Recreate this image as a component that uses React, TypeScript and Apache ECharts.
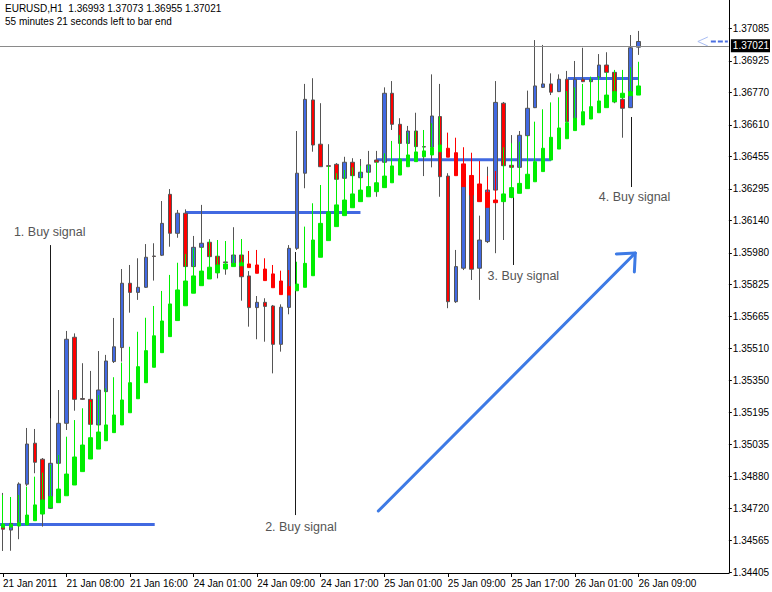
import React, { useEffect, useRef } from 'react';
import * as echarts from 'echarts';

// ---------- data ----------
const symbol = 'EURUSD';
const timeframe = 'H1';
const timeLeftText = '55 minutes 21 seconds left to bar end';

const xTickBars = [0, 8, 16, 24, 32, 40, 48, 56, 64, 72, 80];
const xTickLabels = [
  '21 Jan 2011', '21 Jan 08:00', '21 Jan 16:00', '24 Jan 01:00', '24 Jan 09:00', '24 Jan 17:00',
  '25 Jan 01:00', '25 Jan 09:00', '25 Jan 17:00', '26 Jan 01:00', '26 Jan 09:00',
];
const yTickValues = [
  1.37085, 1.36925, 1.3677, 1.3661, 1.36455, 1.36295, 1.3614, 1.3598, 1.35825, 1.35665,
  1.3551, 1.3535, 1.35195, 1.35035, 1.3488, 1.3472, 1.34565, 1.34405,
];

// main EURUSD H1 candles (bars 0..80)
const mainOpen = [
  1.34631, 1.34614, 1.34650, 1.34840, 1.35042, 1.34963, 1.34721, 1.34943, 1.35140, 1.35564,
  1.35262, 1.35258, 1.35132, 1.35296, 1.35444, 1.35513, 1.35830, 1.35785, 1.35810, 1.35964,
  1.35968, 1.36268, 1.36076, 1.36175, 1.35912, 1.36007, 1.36032, 1.35963, 1.35935, 1.35928,
  1.35969, 1.35866, 1.35710, 1.35736, 1.35718, 1.35529, 1.35711, 1.36002, 1.36372, 1.36733,
  1.36515, 1.36409, 1.36416, 1.36347, 1.36426, 1.36350, 1.36377, 1.36437, 1.36426, 1.36766,
  1.36613, 1.36519, 1.36580, 1.36503, 1.36500, 1.36651, 1.36358, 1.35739, 1.35904, 1.36339,
  1.35904, 1.36035, 1.36289, 1.36717, 1.36411, 1.36401, 1.36557, 1.36695, 1.36795, 1.36812,
  1.36774, 1.36835, 1.36639, 1.36835, 1.36823, 1.36845, 1.36905, 1.36869, 1.36736, 1.36695,
  1.36993,
];
const mainHigh = [
  1.34797, 1.34654, 1.34849, 1.35117, 1.35112, 1.34969, 1.35165, 1.35304, 1.35595, 1.35583,
  1.35436, 1.35398, 1.35496, 1.35477, 1.35659, 1.35900, 1.35920, 1.35953, 1.36023, 1.36027,
  1.36235, 1.36294, 1.36191, 1.36194, 1.36063, 1.36216, 1.36047, 1.35969, 1.35940, 1.36106,
  1.35974, 1.35890, 1.35767, 1.35756, 1.35723, 1.35726, 1.36018, 1.36580, 1.36812, 1.36840,
  1.36717, 1.36515, 1.36422, 1.36453, 1.36446, 1.36442, 1.36482, 1.36482, 1.36795, 1.36826,
  1.36643, 1.36605, 1.36670, 1.36506, 1.36859, 1.36812, 1.36372, 1.35994, 1.36319, 1.36349,
  1.36163, 1.36404, 1.36826, 1.36723, 1.36560, 1.36580, 1.36779, 1.37028, 1.37004, 1.36864,
  1.36859, 1.36876, 1.36925, 1.36990, 1.36836, 1.36959, 1.36968, 1.36876, 1.36748, 1.37053,
  1.37073,
];
const mainLow = [
  1.34511, 1.34512, 1.34569, 1.34831, 1.34894, 1.34631, 1.34718, 1.34940, 1.35107, 1.35202,
  1.35255, 1.35132, 1.35127, 1.35294, 1.35437, 1.35444, 1.35685, 1.35748, 1.35807, 1.35843,
  1.35964, 1.36010, 1.36054, 1.35910, 1.35905, 1.36004, 1.35935, 1.35854, 1.35872, 1.35915,
  1.35744, 1.35616, 1.35554, 1.35542, 1.35386, 1.35493, 1.35677, 1.35994, 1.36298, 1.36478,
  1.36403, 1.36363, 1.36329, 1.36344, 1.36358, 1.36322, 1.36373, 1.36256, 1.36422, 1.36585,
  1.36516, 1.36516, 1.36501, 1.36358, 1.36401, 1.36256, 1.35707, 1.35733, 1.35895, 1.35846,
  1.35748, 1.36028, 1.35978, 1.36043, 1.36249, 1.36398, 1.36555, 1.36693, 1.36792, 1.36757,
  1.36772, 1.36624, 1.36634, 1.36821, 1.36821, 1.36841, 1.36866, 1.36717, 1.36547, 1.36693,
  1.36955,
];
const mainClose = [
  1.34618, 1.34647, 1.34841, 1.35038, 1.34948, 1.34762, 1.34943, 1.35140, 1.35554, 1.35258,
  1.35258, 1.35135, 1.35304, 1.35447, 1.35517, 1.35830, 1.35785, 1.35810, 1.35958, 1.35962,
  1.36125, 1.36076, 1.36175, 1.35912, 1.36007, 1.36027, 1.35961, 1.35918, 1.35932, 1.35969,
  1.35862, 1.35710, 1.35736, 1.35716, 1.35529, 1.35712, 1.36002, 1.36372, 1.36736, 1.36511,
  1.36404, 1.36406, 1.36342, 1.36426, 1.36360, 1.36377, 1.36413, 1.36426, 1.36766, 1.36613,
  1.36519, 1.36580, 1.36503, 1.36501, 1.36654, 1.36355, 1.35739, 1.35912, 1.36309, 1.35899,
  1.36043, 1.36289, 1.36721, 1.36409, 1.36401, 1.36559, 1.36692, 1.36802, 1.36812, 1.36771,
  1.36835, 1.36626, 1.36835, 1.36823, 1.36835, 1.36905, 1.36869, 1.36724, 1.36692, 1.36990,
  1.37021,
];

// smoothed Heiken Ashi indicator bars (bars 0..80)
const haOpen = [
  1.34628, 1.34629, 1.34634, 1.34639, 1.34660, 1.34693, 1.34726, 1.34749, 1.34783, 1.34836,
  1.34902, 1.34964, 1.35013, 1.35054, 1.35094, 1.35132, 1.35192, 1.35261, 1.35340, 1.35416,
  1.35488, 1.35567, 1.35646, 1.35719, 1.35781, 1.35818, 1.35851, 1.35881, 1.35900, 1.35912,
  1.35916, 1.35925, 1.35920, 1.35900, 1.35876, 1.35841, 1.35813, 1.35793, 1.35810, 1.35867,
  1.35958, 1.36040, 1.36109, 1.36163, 1.36202, 1.36232, 1.36256, 1.36281, 1.36301, 1.36325,
  1.36363, 1.36404, 1.36429, 1.36453, 1.36462, 1.36478, 1.36495, 1.36473, 1.36418, 1.36361,
  1.36319, 1.36278, 1.36240, 1.36232, 1.36253, 1.36273, 1.36296, 1.36330, 1.36380, 1.36437,
  1.36491, 1.36542, 1.36582, 1.36610, 1.36639, 1.36670, 1.36695, 1.36724, 1.36744, 1.36754,
  1.36757,
];
const haHigh = [
  1.34787, 1.34777, 1.34787, 1.34828, 1.34877, 1.34897, 1.34935, 1.34984, 1.35074, 1.35156,
  1.35214, 1.35246, 1.35279, 1.35312, 1.35367, 1.35439, 1.35517, 1.35591, 1.35660, 1.35718,
  1.35792, 1.35871, 1.35931, 1.35974, 1.36002, 1.36007, 1.36043, 1.36043, 1.36038, 1.36043,
  1.36048, 1.35989, 1.35994, 1.35953, 1.35920, 1.35892, 1.35895, 1.35936, 1.36109, 1.36224,
  1.36314, 1.36408, 1.36372, 1.36388, 1.36401, 1.36408, 1.36413, 1.36429, 1.36470, 1.36531,
  1.36560, 1.36572, 1.36580, 1.36585, 1.36618, 1.36651, 1.36572, 1.36547, 1.36500, 1.36473,
  1.36432, 1.36358, 1.36383, 1.36500, 1.36520, 1.36527, 1.36557, 1.36626, 1.36687, 1.36721,
  1.36746, 1.36777, 1.36795, 1.36812, 1.36848, 1.36851, 1.36869, 1.36881, 1.36881, 1.36894,
  1.36921,
];
const haLow = [
  1.34628, 1.34629, 1.34634, 1.34639, 1.34660, 1.34693, 1.34726, 1.34749, 1.34783, 1.34836,
  1.34902, 1.34964, 1.35013, 1.35054, 1.35094, 1.35132, 1.35192, 1.35261, 1.35340, 1.35416,
  1.35488, 1.35567, 1.35646, 1.35719, 1.35781, 1.35818, 1.35851, 1.35881, 1.35900, 1.35912,
  1.35916, 1.35907, 1.35879, 1.35843, 1.35808, 1.35774, 1.35772, 1.35793, 1.35810, 1.35867,
  1.35958, 1.36040, 1.36109, 1.36163, 1.36202, 1.36232, 1.36256, 1.36281, 1.36301, 1.36325,
  1.36363, 1.36404, 1.36429, 1.36453, 1.36462, 1.36478, 1.36451, 1.36360, 1.36306, 1.36265,
  1.36232, 1.36204, 1.36227, 1.36232, 1.36253, 1.36273, 1.36296, 1.36330, 1.36380, 1.36437,
  1.36491, 1.36542, 1.36582, 1.36610, 1.36639, 1.36670, 1.36695, 1.36724, 1.36744, 1.36754,
  1.36757,
];
const haClose = [
  1.34644, 1.34641, 1.34650, 1.34688, 1.34738, 1.34762, 1.34779, 1.34816, 1.34890, 1.34974,
  1.35033, 1.35069, 1.35097, 1.35132, 1.35181, 1.35255, 1.35340, 1.35419, 1.35498, 1.35571,
  1.35644, 1.35728, 1.35797, 1.35841, 1.35866, 1.35890, 1.35909, 1.35920, 1.35925, 1.35928,
  1.35931, 1.35907, 1.35879, 1.35843, 1.35808, 1.35774, 1.35772, 1.35826, 1.35928, 1.36043,
  1.36125, 1.36181, 1.36216, 1.36240, 1.36270, 1.36289, 1.36306, 1.36325, 1.36358, 1.36408,
  1.36442, 1.36462, 1.36477, 1.36482, 1.36498, 1.36511, 1.36451, 1.36360, 1.36306, 1.36265,
  1.36232, 1.36204, 1.36227, 1.36270, 1.36301, 1.36322, 1.36367, 1.36429, 1.36495, 1.36549,
  1.36595, 1.36621, 1.36643, 1.36675, 1.36700, 1.36728, 1.36757, 1.36774, 1.36766, 1.36774,
  1.36802,
];

// annotations drawn on the chart (bar index, price)
const signalTexts = ['1. Buy signal', '2. Buy signal', '3. Buy signal', '4. Buy signal'];
const signalTextBar = [1.375, 33, 61, 75];
const signalTextPrice = [1.36083, 1.34629, 1.35866, 1.36255];
const signalLineBar = [5.875, 36.75, 64.25, 79.1];
const signalLineTop = [1.36018, 1.35984, 1.36255, 1.36649];
const signalLineBottom = [1.34723, 1.34688, 1.35920, 1.36304];
const levelStartBar = [-0.375, 23, 47.1, 71.1];
const levelEndBar = [19.1, 45, 69, 80];
const levelPrice = [1.34641, 1.36178, 1.36439, 1.36839];
const arrowFrom = [47.25, 1.34708];
const arrowTo = [79.6, 1.35979];

const FONT = '"Liberation Sans", Arial, sans-serif';

export default function App() {
  const ref = useRef<HTMLDivElement>(null);

  useEffect(() => {
    document.body.style.margin = '0';
    const chart = echarts.init(ref.current as HTMLDivElement, null, { renderer: 'svg' });
    const last = mainOpen.length - 1;
    const currentPrice = mainClose[last];

    const mainData = mainOpen.map((o, i) => [i, o, mainClose[i], mainLow[i], mainHigh[i]]);
    const haData = haOpen.map((o, i) => [i, o, haClose[i], haLow[i], haHigh[i]]);

    chart.setOption({
      animation: false,
      backgroundColor: '#ffffff',
      grid: { left: 0, right: 38, top: 0, bottom: 19, containLabel: false },
      xAxis: {
        type: 'value',
        min: -0.375,
        max: 91.375,
        axisLine: { show: true, onZero: false, lineStyle: { color: '#000', width: 1 } },
        axisTick: { show: true, length: 4, customValues: xTickBars, lineStyle: { color: '#000' } },
        axisLabel: {
          show: true,
          customValues: xTickBars,
          formatter: (v: number) => xTickLabels[xTickBars.indexOf(Math.round(v))] ?? '',
          align: 'left',
          margin: 5,
          color: '#000',
          fontSize: 10,
          fontFamily: FONT,
        },
        splitLine: { show: false },
      },
      yAxis: {
        type: 'value',
        position: 'right',
        min: 1.344025,
        max: 1.372254,
        axisLine: { show: true, onZero: false, lineStyle: { color: '#000', width: 1 } },
        axisTick: { show: true, length: 3, customValues: yTickValues, lineStyle: { color: '#000' } },
        axisLabel: {
          show: true,
          customValues: yTickValues,
          formatter: (v: number) => v.toFixed(5),
          margin: 4,
          color: '#000',
          fontSize: 10,
          fontFamily: FONT,
        },
        splitLine: { show: false },
      },
      series: [
        {
          type: 'candlestick',
          name: 'EURUSD',
          data: mainData,
          barWidth: 4,
          silent: true,
          itemStyle: {
            color: '#4169e1',
            color0: '#ff0000',
            borderColor: '#555555',
            borderColor0: '#555555',
            borderColorDoji: '#555555',
            borderWidth: 1,
          },
          markLine: {
            silent: true,
            symbol: ['none', 'none'],
            data: [{ yAxis: currentPrice }],
            lineStyle: { color: '#8a8a8a', width: 1, type: 'solid' },
            label: {
              show: true,
              position: 'end',
              formatter: currentPrice.toFixed(5),
              color: '#ffffff',
              backgroundColor: '#000000',
              fontSize: 10,
              fontFamily: FONT,
              padding: [2, 1, 1, 2],
              distance: 2,
            },
          },
        },
        {
          type: 'candlestick',
          name: 'Heiken Ashi',
          data: haData,
          barWidth: 4,
          silent: true,
          itemStyle: {
            color: '#00ee00',
            color0: '#ff0000',
            borderColor: '#00ee00',
            borderColor0: '#ff0000',
            borderColorDoji: '#00ee00',
            borderWidth: 1,
          },
        },
      ],
    });

    const px = (x: number, y: number) =>
      chart.convertToPixel({ gridIndex: 0 }, [x, y]) as number[];

    const elements: any[] = [];
    // header
    elements.push({
      type: 'text', x: 5, y: 8,
      style: {
        text: `${symbol},${timeframe}  ${mainOpen[last].toFixed(5)} ${mainHigh[last].toFixed(5)} ${mainLow[last].toFixed(5)} ${mainClose[last].toFixed(5)}`,
        fill: '#000', font: `10px ${FONT}`, align: 'left', verticalAlign: 'middle',
      },
    });
    elements.push({
      type: 'text', x: 5, y: 21,
      style: { text: timeLeftText, fill: '#000', font: `10px ${FONT}`, align: 'left', verticalAlign: 'middle' },
    });
    // horizontal level lines
    levelPrice.forEach((p, i) => {
      const a = px(levelStartBar[i], p);
      const b = px(levelEndBar[i], p);
      elements.push({
        type: 'line', silent: true,
        shape: { x1: a[0], y1: a[1], x2: b[0], y2: b[1] },
        style: { stroke: '#4169e1', lineWidth: 3 },
      });
    });
    // vertical signal lines
    signalLineBar.forEach((bx, i) => {
      const a = px(bx, signalLineTop[i]);
      const b = px(bx, signalLineBottom[i]);
      elements.push({
        type: 'line', silent: true,
        shape: { x1: Math.round(a[0]) + 0.5, y1: a[1], x2: Math.round(b[0]) + 0.5, y2: b[1] },
        style: { stroke: '#1a1a1a', lineWidth: 1 },
      });
    });
    // signal texts
    signalTexts.forEach((t, i) => {
      const p = px(signalTextBar[i], signalTextPrice[i]);
      elements.push({
        type: 'text', x: p[0], y: p[1], silent: true,
        style: { text: t, fill: '#555555', font: `12.5px ${FONT}`, align: 'left', verticalAlign: 'middle' },
      });
    });
    // big arrow
    const a0 = px(arrowFrom[0], arrowFrom[1]);
    const a1 = px(arrowTo[0], arrowTo[1]);
    const ang = Math.atan2(a0[1] - a1[1], a0[0] - a1[0]);
    const headLen = 19;
    const spread = (42 * Math.PI) / 180;
    const h1 = [a1[0] + headLen * Math.cos(ang - spread), a1[1] + headLen * Math.sin(ang - spread)];
    const h2 = [a1[0] + headLen * Math.cos(ang + spread), a1[1] + headLen * Math.sin(ang + spread)];
    elements.push({
      type: 'line', silent: true,
      shape: { x1: a0[0], y1: a0[1], x2: a1[0], y2: a1[1] },
      style: { stroke: '#3d7ae5', lineWidth: 3, lineCap: 'round' },
    });
    elements.push({
      type: 'polyline', silent: true,
      shape: { points: [h1, a1, h2] },
      style: { stroke: '#3d7ae5', lineWidth: 3, fill: null, lineCap: 'round', lineJoin: 'round' },
    });
    // price arrow marker near the right axis
    const pr = px(91.375, currentPrice);
    elements.push({
      type: 'polyline', silent: true,
      shape: { points: [[pr[0] - 21, pr[1] - 4.5], [pr[0] - 31, pr[1]], [pr[0] - 21, pr[1] + 4.5]] },
      style: { stroke: '#a9bdf3', lineWidth: 1, fill: null },
    });
    elements.push({
      type: 'line', silent: true,
      shape: { x1: pr[0] - 18, y1: pr[1], x2: pr[0] - 1, y2: pr[1] },
      style: { stroke: '#4a6ee0', lineWidth: 2, lineDash: [5, 2] },
    });

    chart.setOption({ graphic: elements });

    return () => chart.dispose();
  }, []);

  return <div ref={ref} style={{ width: 772, height: 592 }} />;
}
